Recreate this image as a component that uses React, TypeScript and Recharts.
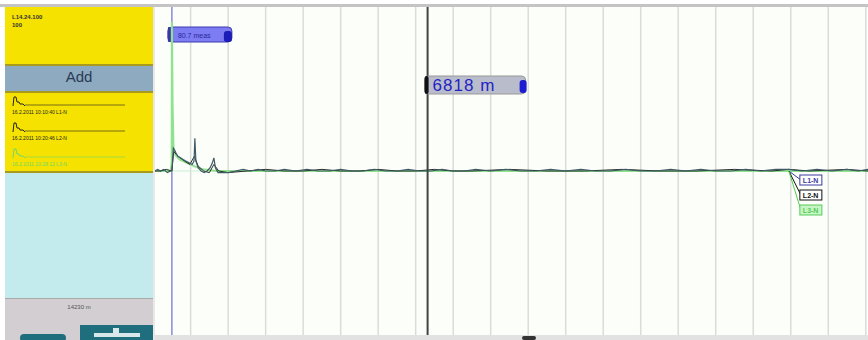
import React from 'react';
import { LineChart, Line, XAxis, YAxis, ReferenceLine, ReferenceDot } from 'recharts';

// distances in metres, amplitude in arbitrary units (0 = baseline)
const l1Dist = [-450, -380, -300, -220, -120, -40, 0, 40, 70, 110, 160, 230, 300, 380, 460, 540, 590, 613, 640, 700, 780, 860, 940, 1020, 1080, 1120, 1160, 1230, 1350, 1500, 1700, 1900, 2100, 2300, 2500, 2750, 3000, 3300, 3600, 3900, 4200, 4500, 4800, 5100, 5400, 5700, 6000, 6300, 6600, 6900, 7200, 7500, 7800, 8100, 8500, 8900, 9300, 9700, 10100, 10500, 10900, 11300, 11700, 12100, 12500, 12900, 13300, 13700, 14100, 14500, 14900, 15300, 15700, 16100, 16450, 16800, 17200, 17600, 18000, 18300, 18560];
const l1Amp = [0, 1, 0, 1, -1, 0, 0, 14, 13, 11, 9, 8, 7, 6, 5, 4, 6, 20, 6, 2, 0, -1, 0, 2, 5, 8, 2, -1, -1, -1, 0, 1, 0, 1, 0, 0, 1, 0, 1, 0, 0, 1, 0, 0, 1, 0, 0, 1, 0, 0, 1, 0, 0, 1, 0, 1, 0, 0, 1, 0, 1, 0, 0, 1, 0, 0, 1, 0, 1, 0, 0, 1, 0, 1, 1, 0, 1, 0, 1, 0, 1];

const l2Dist = [-450, -300, -150, 0, 50, 120, 220, 340, 480, 600, 700, 850, 1000, 1120, 1250, 1500, 2000, 2500, 3000, 3500, 4000, 4500, 5000, 5500, 6000, 6500, 7000, 7500, 8000, 9000, 10000, 11000, 12000, 13000, 14000, 15000, 16000, 16450, 17000, 18000, 18560];
const l2Amp = [0, 0, 1, 0, 12, 10, 8, 6, 4, 9, 3, 0, -1, 4, 0, -1, 0, 1, 0, 0, 1, 0, 0, 1, 0, 0, 1, 0, 0, 1, 0, 0, 1, 0, 0, 1, 0, 1, 0, 1, 0];

const l3Dist = [-450, -200, -30, -5, 0, 20, 45, 90, 200, 400, 600, 800, 1200, 2000, 3000, 4000, 5000, 6000, 7000, 8000, 9000, 10000, 11000, 12000, 13000, 14000, 15000, 16000, 16450, 17000, 18000, 18560];
const l3Amp = [0, 0, 0, 5, 91, 40, 12, 10, 7, 5, 3, 1, 0, 0, 0, 0, 0, 0, 0, 0, 0, 0, 0, 0, 0, 0, 0, 0, 0, 0, 0, 0];

const gridDist = [500, 1500, 2500, 3500, 4500, 5500, 6500, 7500, 8500, 9500, 10500, 11500, 12500, 13500, 14500, 15500, 16500, 17500, 18500];

const cursorDist = 6818;
const cursorLabel = '6818 m';
const startLabel = '80.7 meas';
const traceNames = ['L1-N', 'L2-N', 'L3-N'];
const traceDates = ['16.2.2011 10:10:40 L1-N', '16.2.2011 10:20:46 L2-N', '16.2.2011 10:28:12 L3-N'];
const headerLines = ['L14.24.100', '100'];
const rangeLabel = '14230 m';

const toPoints = (dist: number[], amp: number[]) => dist.map((d, i) => ({ d, v: amp[i] }));

const l1 = toPoints(l1Dist, l1Amp);
const l2 = toPoints(l2Dist, l2Amp);
const l3 = toPoints(l3Dist, l3Amp);

const YELLOW = '#f6e200';
const DIVIDER = '#a89a1c';

const StartLabel = (props: any) => {
  const x = props.viewBox.x;
  return (
    <g>
      <rect x={x - 4} y={20} width={64} height={15} rx={4} fill="#7d7cf2" stroke="#3c3cb0" />
      <rect x={x - 4} y={20} width={3} height={15} rx={1} fill="#3838a0" />
      <text x={x + 6} y={31} fontSize={7} fill="#2a2aa0" fontFamily="Liberation Sans">{startLabel}</text>
      <rect x={x + 52} y={24} width={8} height={11} rx={3} fill="#1c1cb8" />
    </g>
  );
};

const CursorLabel = (props: any) => {
  const x = props.viewBox.x;
  return (
    <g>
      <rect x={x - 3} y={69} width={101} height={18} rx={4} fill="#b9bccb" stroke="#999" />
      <rect x={x - 3} y={69} width={4} height={18} rx={2} fill="#111" />
      <text x={x + 5} y={84} fontSize={17} fill="#2323c4" fontFamily="Liberation Sans" letterSpacing={1}>{cursorLabel}</text>
      <rect x={x + 92} y={73} width={7} height={13} rx={3} fill="#1c1cd0" />
    </g>
  );
};

const EndLabels = (props: any) => {
  const { cx, cy } = props;
  const colors = ['#3a3aa0', '#111', '#55cc55'];
  return (
    <g>
      {traceNames.map((n, i) => {
        const by = cy + 4 + i * 15;
        return (
          <g key={n}>
            <line x1={cx} y1={cy} x2={cx + 12} y2={by + 5} stroke={colors[i]} strokeWidth={1} />
            <rect x={cx + 11} y={by} width={22} height={10} fill={i === 2 ? '#c8f5c8' : '#fff'} stroke={colors[i]} />
            <text x={cx + 14} y={by + 8} fontSize={7} fontWeight="bold" fill={colors[i]} fontFamily="Liberation Sans">{n}</text>
          </g>
        );
      })}
    </g>
  );
};

const TraceEntry = ({ top, color, date }: { top: number; color: string; date: string }) => (
  <div style={{ position: 'absolute', left: 5, top, width: 148, height: 26, background: YELLOW, borderBottom: `2px solid ${DIVIDER}` }}>
    <svg width={148} height={26} style={{ position: 'absolute', left: 0, top: 0 }}>
      <polyline points="8,13 9,4 11,4 12,9 14,9 15,11 18,11 20,13" fill="none" stroke={color} strokeWidth={1} />
      <line x1={20} y1={12} x2={120} y2={12} stroke={color} strokeWidth={0.6} />
      <text x={7} y={21} fontSize={5} fill={color} fontFamily="Liberation Sans">{date}</text>
    </svg>
  </div>
);

const App = () => {
  return (
    <div style={{ position: 'absolute', left: 0, top: 0, width: 868, height: 340, background: '#fff', overflow: 'hidden', fontFamily: 'Liberation Sans' }}>
      <div style={{ position: 'absolute', left: 0, top: 4, width: 868, height: 3, background: '#c4c4c4' }} />
      {/* left panel */}
      <div style={{ position: 'absolute', left: 5, top: 7, width: 148, height: 57, background: YELLOW, borderBottom: `2px solid ${DIVIDER}` }}>
        <div style={{ position: 'absolute', left: 7, top: 6, fontSize: 6, fontWeight: 'bold', lineHeight: '8px', color: '#333' }}>
          {headerLines.map(t => <div key={t}>{t}</div>)}
        </div>
      </div>
      <div style={{ position: 'absolute', left: 5, top: 66, width: 148, height: 25, background: '#8eaac0', borderBottom: `2px solid ${DIVIDER}`, textAlign: 'center', lineHeight: '22px', fontSize: 15, color: '#293b55' }}>
        Add
      </div>
      <TraceEntry top={93} color="#222" date={traceDates[0]} />
      <TraceEntry top={119} color="#222" date={traceDates[1]} />
      <TraceEntry top={145} color="#6fd86f" date={traceDates[2]} />
      <div style={{ position: 'absolute', left: 5, top: 173, width: 148, height: 125, background: '#c3ebed' }} />
      <div style={{ position: 'absolute', left: 5, top: 298, width: 148, height: 42, background: '#d2ced2', borderTop: '1px solid #aaa' }}>
        <div style={{ position: 'absolute', left: 0, top: 5, width: 148, textAlign: 'center', fontSize: 6, color: '#555' }}>{rangeLabel}</div>
        <div style={{ position: 'absolute', left: 15, top: 35, width: 46, height: 8, borderRadius: 4, background: '#1f6e7e' }} />
        <div style={{ position: 'absolute', left: 75, top: 26, width: 73, height: 16, background: '#1f6e7e' }}>
          <div style={{ position: 'absolute', left: 14, top: 8, width: 46, height: 4, background: '#d8e8ea' }} />
          <div style={{ position: 'absolute', left: 33, top: 3, width: 6, height: 6, background: '#d8e8ea' }} />
        </div>
      </div>
      <div style={{ position: 'absolute', left: 153, top: 7, width: 2, height: 333, background: '#e8e8e8' }} />
      {/* plot */}
      <div style={{ position: 'absolute', left: 155, top: 7, width: 713, height: 328, background: '#fcfefa' }}>
        <LineChart width={713} height={328} margin={{ top: 0, right: 0, bottom: 0, left: 0 }}>
          <XAxis type="number" dataKey="d" domain={[-450, 18560]} hide allowDataOverflow />
          <YAxis type="number" domain={[-100, 100]} hide allowDataOverflow />
          {gridDist.map(g => (
            <ReferenceLine key={g} x={g} stroke="#d9ddd9" strokeWidth={1.5} />
          ))}
          <ReferenceLine x={0} stroke="#8a8ad8" strokeWidth={1.5} label={<StartLabel />} />
          <ReferenceLine y={0} stroke="#c8f0d0" strokeWidth={1} />
          <Line data={l3} dataKey="v" type="linear" stroke="#8fe38f" strokeWidth={2} dot={false} isAnimationActive={false} />
          <Line data={l2} dataKey="v" type="linear" stroke="#2a2a2a" strokeWidth={1} dot={false} isAnimationActive={false} />
          <Line data={l1} dataKey="v" type="linear" stroke="#3f5a66" strokeWidth={1.2} dot={false} isAnimationActive={false} />
          <ReferenceLine x={cursorDist} stroke="#444" strokeWidth={2} label={<CursorLabel />} />
          <ReferenceDot x={16450} y={0} r={0} shape={(p: any) => <EndLabels {...p} />} />
        </LineChart>
      </div>
      <div style={{ position: 'absolute', left: 155, top: 335, width: 713, height: 5, background: '#e2e2e2' }} />
      <div style={{ position: 'absolute', left: 522, top: 336, width: 14, height: 4, borderRadius: 2, background: '#333' }} />
    </div>
  );
};

export default App;
